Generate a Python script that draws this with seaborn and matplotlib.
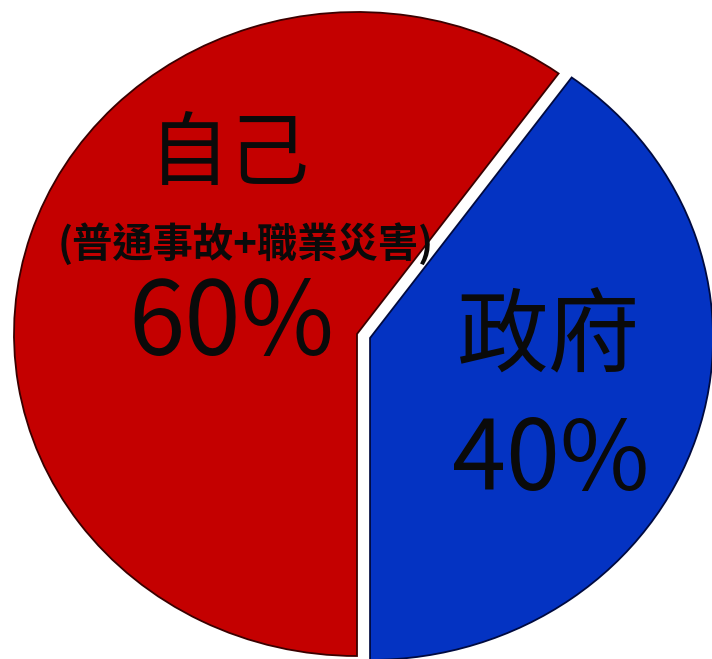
import matplotlib
matplotlib.use("Agg")
import matplotlib.pyplot as plt
import seaborn as sns

categories = ["自己", "政府"]
values = [60, 40]
pct_labels = ["60%", "40%"]
subtitle = "(普通事故+職業災害)"
colors = ["#C40000", "#0433C2"]
edge_colors = ["#3a0000", "#000a40"]

sns.set_theme(style="white")
plt.rcParams["font.family"] = ["Noto Sans CJK TC", "DejaVu Sans"]

W, H = 712, 659
fig = plt.figure(figsize=(W / 100, H / 100), dpi=100)
ax = fig.add_axes([0, 0, 1, 1])

wedges, _ = ax.pie(values, colors=colors, startangle=54, counterclock=True,
                   explode=[0, 0.04], radius=1.0,
                   wedgeprops=dict(linewidth=1.3))
for w, ec in zip(wedges, edge_colors):
    w.set_edgecolor(ec)

# pixel-based view window: pie centre ~(357,334), rx~343, ry~322
cx, cy, rx, ry = 357, 334, 343, 322
ax.set_aspect("auto")
ax.set_xlim(-cx / rx, (W - cx) / rx)
ax.set_ylim(-(H - cy) / ry, cy / ry)
ax.axis("off")

tc = "#0a0a0a"
def fx(x):
    return x / W
def fy(y):
    return 1 - y / H

ax.text(fx(229), fy(156), categories[0], transform=ax.transAxes, ha="center",
        va="center", fontsize=58, color=tc)
ax.text(fx(246), fy(244), subtitle, transform=ax.transAxes, ha="center",
        va="center", fontsize=29, fontweight="bold", color=tc)
ax.text(fx(231), fy(326), pct_labels[0], transform=ax.transAxes, ha="center",
        va="center", fontsize=73, color=tc)
ax.text(fx(549), fy(339), categories[1], transform=ax.transAxes, ha="center",
        va="center", fontsize=66, color=tc)
ax.text(fx(551), fy(462), pct_labels[1], transform=ax.transAxes, ha="center",
        va="center", fontsize=70, color=tc)

fig.savefig("out.png", dpi=100, facecolor="white")
